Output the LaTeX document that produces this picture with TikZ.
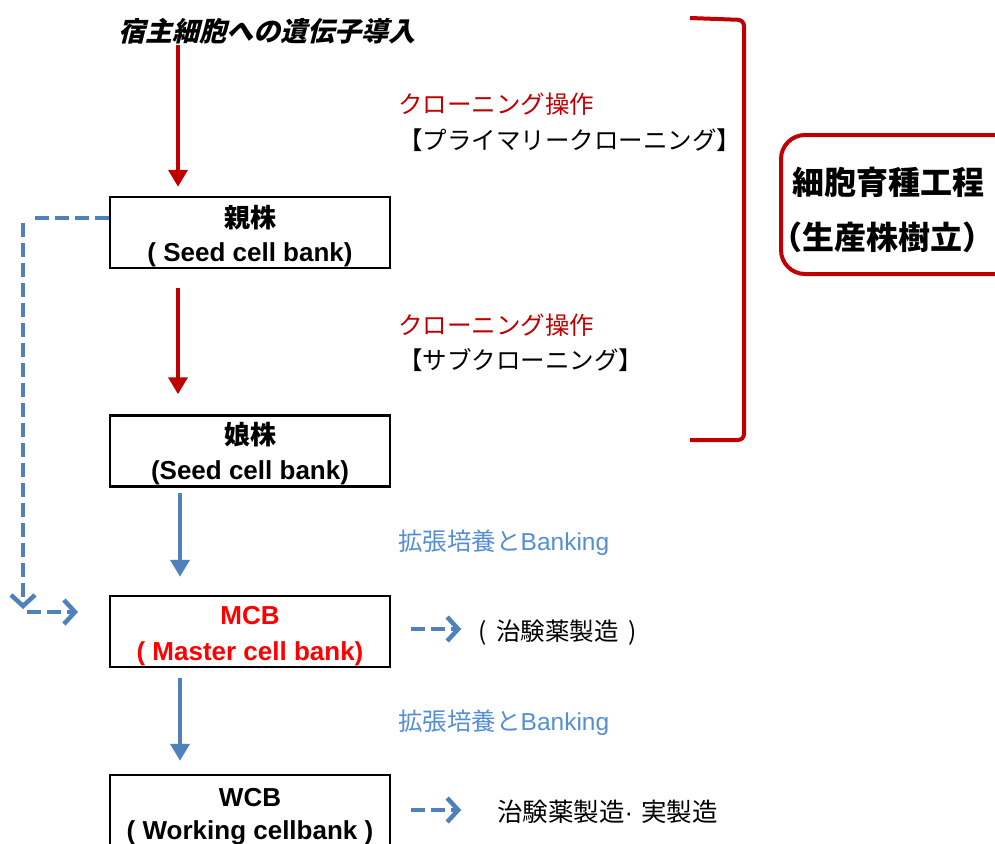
\documentclass[tikz,border=0pt]{standalone}
\usepackage{fontspec}
\setmainfont{Liberation Sans}
\newfontfamily\jp{Noto Sans CJK JP}
\newfontfamily\jph[RawFeature=+halt]{Noto Sans CJK JP}
\newfontfamily\jpsl[FakeSlant=0.25]{Noto Sans CJK JP}
\usetikzlibrary{arrows.meta}
\definecolor{dred}{HTML}{C00000}
\definecolor{bblue}{HTML}{4F81BD}
\definecolor{tblue}{HTML}{558ED5}
\tikzset{
  cellbox/.style={draw, line width=2.5pt, minimum width=280pt, minimum height=71pt, inner sep=0pt},
  boxtxt/.style={inner sep=0pt, font=\fontsize{26}{36}\selectfont\bfseries},
  redarr/.style={draw=dred, line width=4pt, -{Triangle[length=17pt,width=19pt]}},
  bluearr/.style={draw=bblue, line width=4pt, -{Triangle[length=17pt,width=19pt]}},
  dasharr/.style={draw=bblue, line width=4.5pt, dash pattern=on 14pt off 6pt,
    -{Straight Barb[length=11pt,width=24pt,line width=4.5pt]}},
  dashline/.style={draw=bblue, line width=4.5pt, dash pattern=on 14pt off 6pt},
  lbl/.style={anchor=west, inner sep=0pt, font=\fontsize{24.5}{34}\selectfont\jp, align=left},
  bigtxt/.style={inner sep=0pt, anchor=west, font=\fontsize{32}{40}\selectfont\jp\bfseries},
}
\begin{document}
\begin{tikzpicture}[x=1pt,y=-1pt]
\useasboundingbox (0,0) rectangle (995,843);
% title
\node[inner sep=0pt, anchor=west, font=\fontsize{27}{30}\selectfont\jpsl\bfseries] (t0) at (118,31) {宿主細胞への遺伝子導入};
\coordinate (s0) at (178,45);
% boxes
\node[cellbox] (b1) at (250,232.5) {};
\node[boxtxt] (b1a) at ([yshift=15pt]b1.center) {\jp 親株};
\node[boxtxt] (b1b) at ([yshift=-22.5pt]b1.center) {( Seed cell bank)};
\node[cellbox] (b2) at (250,451) {};
\node[boxtxt] (b2a) at ([yshift=16.5pt]b2.center) {\jp 娘株};
\node[boxtxt] (b2b) at ([yshift=-22pt]b2.center) {(Seed cell bank)};
\node[cellbox] (b3) at (250,631.5) {};
\node[boxtxt, text=red] (b3a) at ([yshift=15.5pt]b3.center) {MCB};
\node[boxtxt, text=red] (b3b) at ([yshift=-22.5pt]b3.center) {( Master cell bank)};
\node[cellbox] (b4) at (250,810.5) {};
\node[boxtxt] (b4a) at ([yshift=12.5pt]b4.center) {WCB};
\node[boxtxt] (b4b) at ([yshift=-22pt]b4.center) {( Working cellbank )};
% solid arrows
\draw[redarr, shorten >=9pt] (s0) -- ([xshift=-72pt]b1.north);
\draw[redarr, shorten <=19pt, shorten >=20pt] ([xshift=-72pt]b1.south) -- ([xshift=-72pt]b2.north);
\draw[bluearr, shorten <=5pt, shorten >=18pt] ([xshift=-70pt]b2.south) -- ([xshift=-70pt]b3.north);
\draw[bluearr, shorten <=10pt, shorten >=13pt] ([xshift=-70pt]b3.south) -- ([xshift=-70pt]b4.north);
% labels
\node[lbl, text=dred] (l1) at (398,104) {クローニング操作};
\node[lbl] (l2) at (398,140) {【プライマリークローニング】};
\node[lbl, text=dred] (l3) at (398,325) {クローニング操作};
\node[lbl] (l4) at (398,360) {【サブクローニング】};
\node[lbl, text=tblue] (l5) at (398,543) {拡張培養と{\rmfamily Banking}};
\node[lbl, text=tblue] (l6) at (398,723) {拡張培養と{\rmfamily Banking}};
% dashed bypass
\coordinate (d1) at (33,218);
\coordinate (d2) at (23,223);
\coordinate (d3) at (23,609);
\coordinate (d4) at (27,612);
\coordinate (d5) at (78,612);
\draw[dashline] ([yshift=14.5pt]b1.west) -- (d1);
\draw[dasharr] (d2) -- (d3);
\draw[dasharr] (d4) -- (d5);
% side outputs
\node[lbl] (o1) at (478,633) {(\hspace{10pt}治験薬製造\hspace{10pt})};
\node[lbl, font=\fontsize{25.5}{34}\selectfont\jp] (o2) at (497,812) {治験薬製造{\rmfamily ·}\hspace{8pt}実製造};
\draw[dasharr] ([xshift=20pt,yshift=2.5pt]b3.east) -- ([xshift=70pt,yshift=2.5pt]b3.east);
\draw[dasharr] ([xshift=20pt,yshift=0.5pt]b4.east) -- ([xshift=70pt,yshift=0.5pt]b4.east);
% bracket
\coordinate (k1) at (690,18);
\coordinate (k2) at (744,440);
\draw[dred, line width=4pt, rounded corners=6pt] (k1) -- (744,20) -- (k2) -- (690,440);
% rounded box
\node[draw=dred, line width=4pt, rounded corners=24pt, minimum width=250pt, minimum height=139pt,
  anchor=north west, inner sep=0pt] (g) at (779,133) {};
\node[bigtxt] (g1) at (792,182) {細胞育種工程};
\node[bigtxt] (g2) at (786,237) {{\jph （}生産株樹立{\jph ）}};
\end{tikzpicture}
\end{document}
